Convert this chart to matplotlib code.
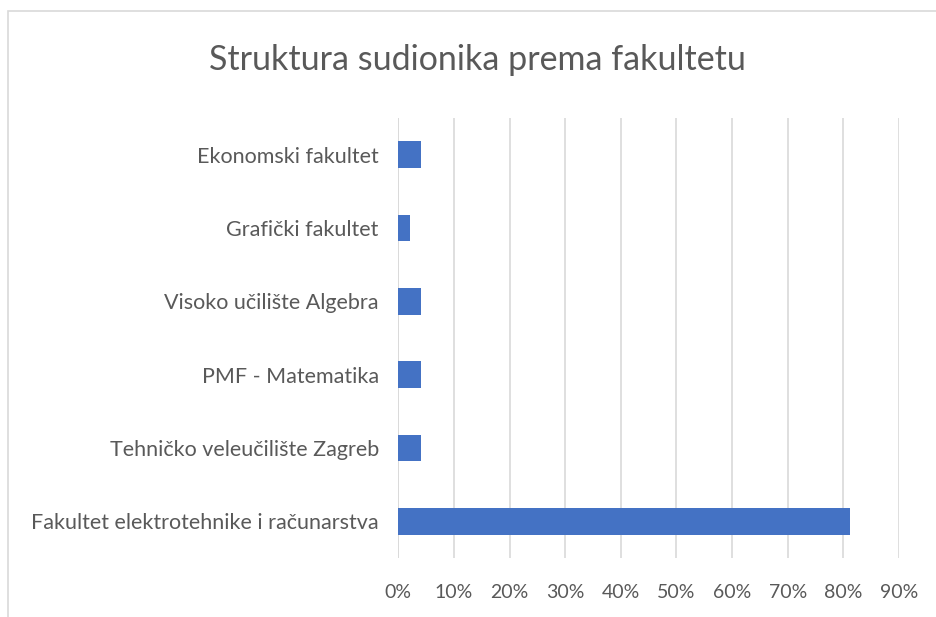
import matplotlib
matplotlib.use("Agg")
import matplotlib.pyplot as plt
from matplotlib.patches import Rectangle
from matplotlib.ticker import FuncFormatter

categories = [
    "Fakultet elektrotehnike i računarstva",
    "Tehničko veleučilište Zagreb",
    "PMF - Matematika",
    "Visoko učilište Algebra",
    "Grafički fakultet",
    "Ekonomski fakultet",
]
values = [0.8125, 0.0417, 0.0417, 0.0417, 0.0208, 0.0417]
xticks = [0.0, 0.1, 0.2, 0.3, 0.4, 0.5, 0.6, 0.7, 0.8, 0.9]
title = "Struktura sudionika prema fakultetu"

W, H = 936, 617
plt.rcParams['font.family'] = ['Lato', 'DejaVu Sans']
fig = plt.figure(figsize=(W / 100, H / 100), dpi=100)

# outer chart frame
fig.patches.append(Rectangle((8 / W, -0.1), 1.2, 1 - 11 / H + 0.1, transform=fig.transFigure,
                             fill=False, edgecolor='#d9d9d9', linewidth=1.2))

left, right = 398.3 / W, 899 / W
bottom, top = 1 - 558 / H, 1 - 118 / H
ax = fig.add_axes([left, bottom, right - left, top - bottom])
y = list(range(len(categories)))
ax.barh(y, values, height=0.36, color='#4472c4', zorder=3)
ax.set_xlim(0, 0.9)
ax.set_ylim(-0.5, len(categories) - 0.5)
ax.set_xticks(xticks)
ax.xaxis.set_major_formatter(FuncFormatter(lambda v, p: f"{round(v * 100)}%"))
ax.set_yticks(y)
ax.set_yticklabels(categories)
ax.grid(axis='x', color='#d9d9d9', linewidth=1.2, zorder=0)
for s in ax.spines.values():
    s.set_visible(False)
ax.axvline(0, color='#d9d9d9', linewidth=1.2, zorder=1)
ax.tick_params(axis='both', length=0, colors='#595959')
ax.tick_params(axis='y', labelsize=15.5, pad=14)
ax.tick_params(axis='x', labelsize=14, pad=19)

fig.text(477 / W, 1 - 60 / H, title, ha='center', va='center', fontsize=24.5, color='#595959')

fig.savefig("out.png", dpi=100)
